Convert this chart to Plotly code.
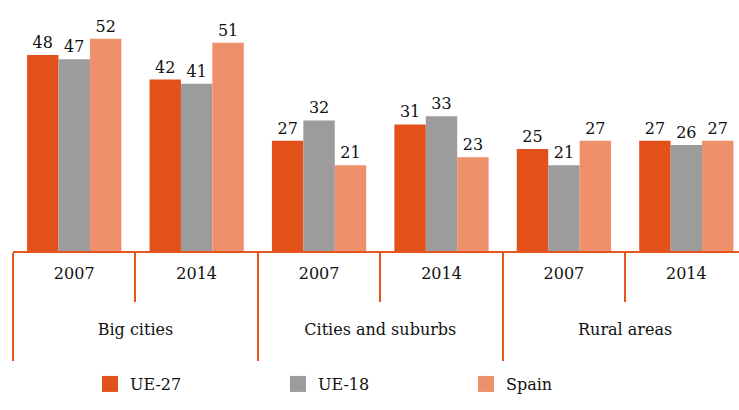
import plotly.graph_objects as go

groups = ["Big cities", "Big cities", "Cities and suburbs", "Cities and suburbs", "Rural areas", "Rural areas"]
years = ["2007", "2014", "2007", "2014", "2007", "2014"]
ue27 = [48, 42, 27, 31, 25, 27]
ue18 = [47, 41, 32, 33, 21, 26]
spain = [52, 51, 21, 23, 27, 27]
series_names = ["UE-27", "UE-18", "Spain"]
colors = ["#E2511A", "#9C9C9C", "#EE906C"]
AX = "#E4561E"
FONT = "DejaVu Serif"

# outer-level labels are pushed down with blank lines to sit below the year row
group_labels = ["<br><br>" + g + "<br>\u00a0" for g in groups]

fig = go.Figure()
for name, vals, c in zip(series_names, [ue27, ue18, spain], colors):
    fig.add_trace(go.Bar(
        x=[group_labels, years], y=vals, name=name, marker_color=c, marker_line_width=0,
        text=[str(v) for v in vals], textposition="outside", cliponaxis=False,
        textfont=dict(family=FONT, size=16, color="#111"), showlegend=False,
    ))
for name, c in zip(series_names, colors):
    fig.add_trace(go.Scatter(
        x=[None], y=[None], mode="markers", name=name,
        marker=dict(symbol="square", size=17, color=c), showlegend=True,
    ))

fig.update_layout(
    width=739, height=410,
    margin=dict(l=13, r=0, t=0, b=159),
    paper_bgcolor="white", plot_bgcolor="white",
    barmode="group", bargap=0.23, bargroupgap=0,
    font=dict(family=FONT, size=16, color="#111"),
    showlegend=True,
    legend=dict(orientation="h", x=0.106, xanchor="left", y=-0.53, yanchor="middle",
                entrywidth=143, entrywidthmode="pixels", font=dict(size=16, family=FONT),
                itemwidth=30),
    xaxis=dict(type="multicategory", range=[-0.5, 5.43], showline=True, linecolor=AX, linewidth=2,
               dividercolor=AX, dividerwidth=2, showdividers=True,
               ticks="outside", tickcolor=AX, tickwidth=2, ticklen=49, ticklabelstandoff=7,
               tickfont=dict(family=FONT, size=16, color="#111"), showgrid=False),
    yaxis=dict(range=[0, 61.5], visible=False, showgrid=False, zeroline=False),
)
fig.write_html("out.html")
